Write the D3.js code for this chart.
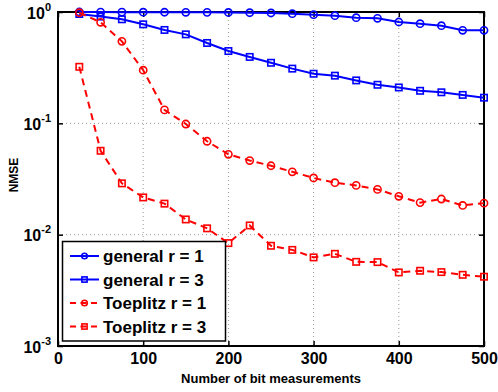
<!DOCTYPE html>
<html>
<head>
<meta charset="utf-8">
<script src="https://cdn.jsdelivr.net/npm/d3@7"></script>
<style>
  body { margin: 0; background: #fff; }
  text { font-family: "Liberation Sans", Arial, sans-serif; font-weight: bold; }
</style>
</head>
<body>
<script>
// measurements on x axis
var measurements = [25, 50, 75, 100, 125, 150, 175, 200, 225, 250, 275, 300, 325, 350, 375, 400, 425, 450, 475, 500];

// NMSE per series
var generalR1 = [1.0, 0.998, 0.997, 0.996, 0.995, 0.994, 0.993, 0.99, 0.985, 0.98, 0.965, 0.946, 0.926, 0.889, 0.878, 0.813, 0.785, 0.753, 0.685, 0.685];
var generalR3 = [0.96, 0.91, 0.86, 0.775, 0.69, 0.63, 0.527, 0.446, 0.395, 0.35, 0.31, 0.279, 0.268, 0.243, 0.222, 0.21, 0.196, 0.19, 0.18, 0.17];
var toeplitzR1 = [0.985, 0.808, 0.545, 0.30, 0.132, 0.0986, 0.069, 0.0527, 0.0463, 0.0416, 0.0367, 0.0323, 0.0293, 0.0277, 0.0255, 0.0221, 0.0194, 0.0209, 0.0183, 0.0192];
var toeplitzR3 = [0.322, 0.0567, 0.0289, 0.0216, 0.019, 0.0137, 0.0114, 0.0084, 0.0121, 0.00795, 0.0073, 0.00625, 0.00673, 0.0057, 0.00567, 0.00458, 0.00474, 0.00461, 0.00436, 0.00419];

var seriesNames = ["general r = 1", "general r = 3", "Toeplitz r = 1", "Toeplitz r = 3"];

var xTicks = [0, 100, 200, 300, 400, 500];
var yTicks = [1e-3, 1e-2, 1e-1, 1];
var yExponents = ["-3", "-2", "-1", "0"];

var series = [
  {name: seriesNames[0], values: generalR1, color: "#0000ff", dash: null, marker: "circle"},
  {name: seriesNames[1], values: generalR3, color: "#0000ff", dash: null, marker: "square"},
  {name: seriesNames[2], values: toeplitzR1, color: "#ff0000", dash: "7,5", marker: "circle"},
  {name: seriesNames[3], values: toeplitzR3, color: "#ff0000", dash: "7,5", marker: "square"}
];

var plotLeft = 58, plotRight = 484, plotTop = 12, plotBottom = 346;

var svg = d3.select("body").append("svg")
    .attr("width", 498)
    .attr("height", 392);

var x = d3.scaleLinear().domain([0, 500]).range([plotLeft, plotRight]);
var y = d3.scaleLog().domain([1e-3, 1]).range([plotBottom, plotTop]);

//grid
var grid = svg.append("g");
grid.selectAll("line.gx")
    .data(xTicks.slice(1, -1))
    .enter().append("line")
    .attr("x1", function(d) { return x(d); }).attr("x2", function(d) { return x(d); })
    .attr("y1", plotTop).attr("y2", plotBottom)
    .attr("stroke", "#999").attr("stroke-width", 1).attr("stroke-dasharray", "1,3");
grid.selectAll("line.gy")
    .data(yTicks.slice(1, -1))
    .enter().append("line")
    .attr("y1", function(d) { return y(d); }).attr("y2", function(d) { return y(d); })
    .attr("x1", plotLeft).attr("x2", plotRight)
    .attr("stroke", "#999").attr("stroke-width", 1).attr("stroke-dasharray", "1,3");

//axes
var xAxis = svg.append("g")
    .attr("transform", "translate(0," + plotBottom + ")")
    .call(d3.axisBottom(x).tickValues(xTicks).tickSize(-5).tickPadding(7).tickFormat(d3.format("d")));
xAxis.selectAll("text").attr("font-size", 16).attr("fill", "#000");

svg.append("g")
    .attr("transform", "translate(0," + plotTop + ")")
    .call(d3.axisTop(x).tickValues(xTicks).tickSize(-5).tickFormat(""));

var yAxis = svg.append("g")
    .attr("transform", "translate(" + plotLeft + ",0)")
    .call(d3.axisLeft(y).tickValues(yTicks).tickSize(-5).tickFormat(""));

svg.append("g")
    .attr("transform", "translate(" + plotRight + ",0)")
    .call(d3.axisRight(y).tickValues(yTicks).tickSize(-5).tickFormat(""));

svg.selectAll(".domain").remove();
svg.selectAll(".tick line").attr("stroke", "#000").attr("stroke-width", 1.5);

yAxis.selectAll(".tick text").each(function(d, i) {
  var t = d3.select(this).text(null)
      .attr("x", -7).attr("dy", null).attr("y", 6)
      .attr("text-anchor", "end").attr("fill", "#000");
  t.append("tspan").attr("font-size", 16).text("10");
  t.append("tspan").attr("font-size", 11).attr("dy", -8).text(yExponents[i]);
});

//frame
svg.append("rect")
    .attr("x", plotLeft).attr("y", plotTop)
    .attr("width", plotRight - plotLeft).attr("height", plotBottom - plotTop)
    .attr("fill", "none").attr("stroke", "#000").attr("stroke-width", 2);

//lines
var line = d3.line()
    .x(function(d, i) { return x(measurements[i]); })
    .y(function(d) { return y(d); });

function drawMarker(g, type, cx, cy, size, color) {
  if (type === "circle") {
    g.append("circle").attr("cx", cx).attr("cy", cy).attr("r", size)
      .attr("fill", "none").attr("stroke", color).attr("stroke-width", 1.6);
  } else {
    g.append("rect").attr("x", cx - size).attr("y", cy - size)
      .attr("width", size * 2).attr("height", size * 2)
      .attr("fill", "none").attr("stroke", color).attr("stroke-width", 1.6);
  }
}

series.forEach(function(s) {
  var g = svg.append("g");
  g.append("path")
      .attr("d", line(s.values))
      .attr("fill", "none")
      .attr("stroke", s.color)
      .attr("stroke-width", 2)
      .attr("stroke-dasharray", s.dash);
  s.values.forEach(function(v, i) {
    drawMarker(g, s.marker, x(measurements[i]), y(v), s.marker === "circle" ? 3.6 : 3.2, s.color);
  });
});

//legend
var legend = svg.append("g");
legend.append("rect")
    .attr("x", 62.5).attr("y", 241.5).attr("width", 163).attr("height", 99.5)
    .attr("fill", "#fff").attr("stroke", "#000").attr("stroke-width", 1.5);

series.forEach(function(s, i) {
  var ly = 256 + i * 23.5;
  legend.append("line")
      .attr("x1", 70).attr("x2", 99).attr("y1", ly).attr("y2", ly)
      .attr("stroke", s.color).attr("stroke-width", 2)
      .attr("stroke-dasharray", s.dash ? "6,4.5" : null);
  drawMarker(legend, s.marker, 84.5, ly, s.marker === "circle" ? 2.8 : 2.6, s.color);
  legend.append("text")
      .attr("x", 103).attr("y", ly + 6)
      .attr("font-size", 17)
      .attr("fill", "#000")
      .text(s.name);
});

//axis labels
svg.append("text")
    .attr("x", (plotLeft + plotRight) / 2).attr("y", 383)
    .attr("text-anchor", "middle")
    .attr("font-size", 13)
    .text("Number of bit measurements");

svg.append("text")
    .attr("transform", "translate(18,175) rotate(-90)")
    .attr("text-anchor", "middle")
    .attr("font-size", 12)
    .text("NMSE");
</script>
</body>
</html>
